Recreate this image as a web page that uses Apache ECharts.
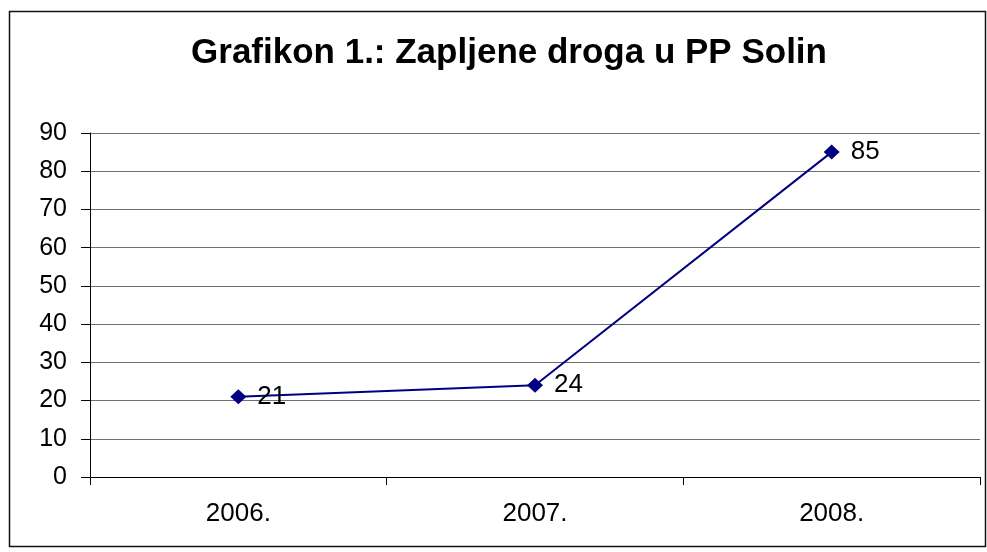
<!DOCTYPE html>
<html>
<head>
<meta charset="utf-8">
<script src="https://cdn.jsdelivr.net/npm/echarts@6/dist/echarts.min.js"></script>
<style>
  html, body { margin: 0; padding: 0; background: #fff; }
  #chart { width: 987px; height: 552px; }
</style>
</head>
<body>
<div id="chart"></div>
<script>
// podaci s grafikona
var years = ['2006.', '2007.', '2008.'];
var seizures = [21, 24, 85];
var yTicks = [0, 10, 20, 30, 40, 50, 60, 70, 80, 90];

var myChart = echarts.init(document.getElementById('chart'));
var font = 'Liberation Sans, Arial, sans-serif';

var option = {
    backgroundColor: '#fff',
    animation: false,
    title: {
        text: 'Grafikon 1.: Zapljene droga u PP Solin',
        left: 504,
        top: 31,
        textAlign: 'center',
        textStyle: {
            fontFamily: font,
            fontSize: 35,
            fontWeight: 'bold',
            color: '#000'
        }
    },
    // okvir oko grafikona
    graphic: [{
        type: 'rect',
        shape: { x: 9.5, y: 11.5, width: 976, height: 535 },
        style: { fill: 'none', stroke: '#111', lineWidth: 1.5 },
        silent: true
    }],
    grid: {
        left: 90,
        right: 7,
        top: 133,
        bottom: 75
    },
    xAxis: {
        type: 'category',
        data: years,
        boundaryGap: true,
        axisLine: { lineStyle: { color: '#000', width: 1 } },
        axisTick: { show: true, length: 8, lineStyle: { color: '#000' } },
        axisLabel: {
            margin: 24,
            fontFamily: font,
            fontSize: 26,
            color: '#000'
        }
    },
    yAxis: {
        type: 'value',
        min: yTicks[0],
        max: yTicks[yTicks.length - 1],
        interval: 10,
        axisLine: { show: true, lineStyle: { color: '#000', width: 1 } },
        axisTick: { show: true, length: 9, lineStyle: { color: '#000' } },
        axisLabel: {
            margin: 23,
            fontFamily: font,
            fontSize: 25,
            color: '#000'
        },
        splitLine: { show: true, lineStyle: { color: '#6e6e6e', width: 1 } }
    },
    series: [{
        type: 'line',
        data: seizures,
        symbol: 'diamond',
        symbolSize: [16, 15],
        lineStyle: { color: '#000080', width: 2 },
        itemStyle: { color: '#000080' },
        label: {
            show: true,
            position: 'right',
            distance: 11,
            fontFamily: font,
            fontSize: 26,
            color: '#000'
        }
    }]
};

myChart.setOption(option);
</script>
</body>
</html>
